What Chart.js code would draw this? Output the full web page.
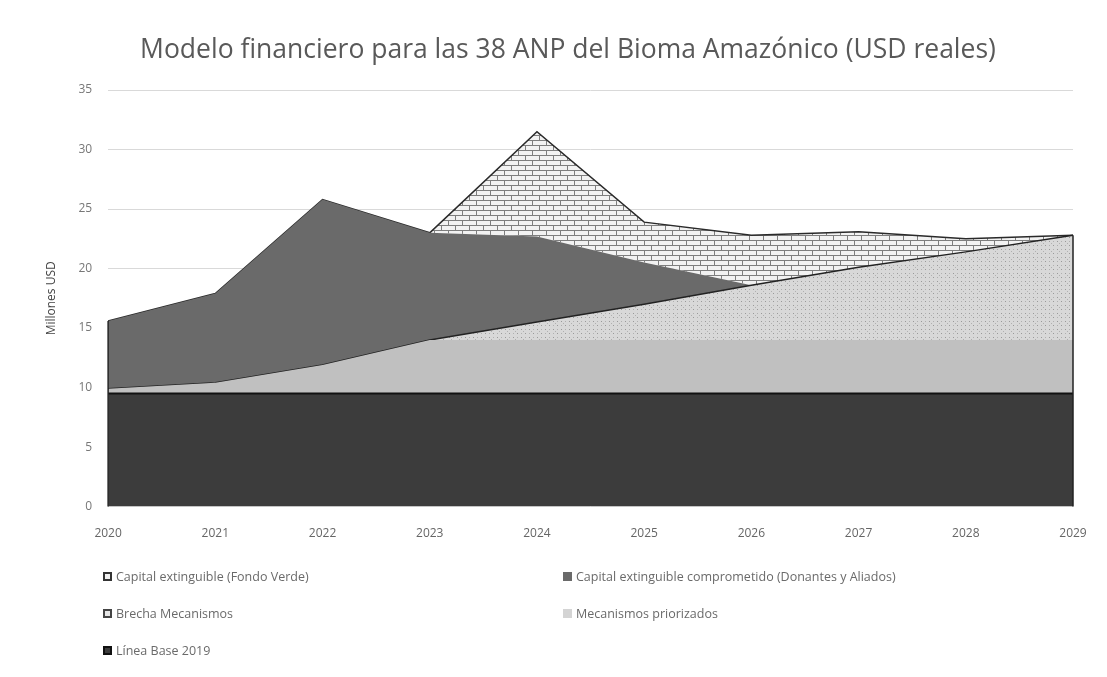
<!DOCTYPE html>
<html>
<head>
<meta charset="utf-8">
<script src="https://cdn.jsdelivr.net/npm/chart.js@4"></script>
<style>
  body { margin: 0; background: #fff; font-family: "Open Sans", sans-serif; }
  #wrap { position: relative; width: 1107px; height: 677px; }
  #title { position: absolute; left: 0; top: 31px; width: 1136px; text-align: center;
           font-size: 26.5px; color: #595959; line-height: 34px; white-space: nowrap; }
  #legend { position: absolute; left: 103px; top: 566px; width: 960px;
            display: grid; grid-template-columns: 460px 460px; row-gap: 17px; }
  .item { display: flex; align-items: center; font-size: 12.5px; color: #6a6a6a; height: 20px; }
  .sw { width: 9px; height: 9px; margin-right: 4px; box-sizing: border-box; }
</style>
</head>
<body>
<div id="wrap">
  <canvas id="chart" width="1107" height="677"></canvas>
  <div id="title">Modelo financiero para las 38 ANP del Bioma Amazónico (USD reales)</div>
  <div id="legend"></div>
</div>
<script>
// datos (millones USD, apilados)
const years = ['2020','2021','2022','2023','2024','2025','2026','2027','2028','2029'];
const lineaBase   = [9.5, 9.5, 9.5, 9.5, 9.5, 9.5, 9.5, 9.5, 9.5, 9.5];
const mecPriorizados = [0.4, 0.9, 2.4, 4.5, 4.5, 4.5, 4.5, 4.5, 4.5, 4.5];
const brechaMec   = [0, 0, 0, 0, 1.5, 3.0, 4.6, 6.1, 7.4, 8.8];
const comprometido = [5.7, 7.5, 13.9, 9.0, 7.2, 3.5, 0, 0, 0, 0];
const fondoVerde  = [0, 0, 0, 0, 8.8, 3.4, 4.2, 3.0, 1.1, 0];
const yTicks = [0, 5, 10, 15, 20, 25, 30, 35];

// patron de ladrillos
function brickPattern() {
  const c = document.createElement('canvas');
  c.width = 14; c.height = 10;
  const g = c.getContext('2d');
  g.fillStyle = '#f2f2f2'; g.fillRect(0, 0, 14, 10);
  g.strokeStyle = '#7e7e7e'; g.lineWidth = 1;
  g.beginPath();
  g.moveTo(0, 0.5); g.lineTo(14, 0.5);
  g.moveTo(0, 5.5); g.lineTo(14, 5.5);
  g.moveTo(0.5, 0); g.lineTo(0.5, 5);
  g.moveTo(7.5, 5); g.lineTo(7.5, 10);
  g.stroke();
  return g.createPattern(c, 'repeat');
}

// patron punteado
function dotPattern() {
  const c = document.createElement('canvas');
  c.width = 8; c.height = 8;
  const g = c.getContext('2d');
  g.fillStyle = '#d8d8d8'; g.fillRect(0, 0, 8, 8);
  g.fillStyle = '#999';
  g.fillRect(1, 1, 1, 1); g.fillRect(5, 5, 1, 1);
  g.fillStyle = '#b0b0b0';
  g.fillRect(5, 1, 1, 1); g.fillRect(1, 5, 1, 1); g.fillRect(3, 3, 1, 1);
  return g.createPattern(c, 'repeat');
}

// bordes verticales del area en los extremos
const edgePlugin = {
  id: 'edges',
  afterDatasetsDraw(chart) {
    const x = chart.scales.x, y = chart.scales.y;
    const n = years.length;
    const c = chart.ctx;
    c.save();
    c.strokeStyle = '#222';
    c.lineWidth = 1.5;
    [0, n - 1].forEach(i => {
      const total = chart.data.datasets.reduce((s, ds) => s + ds.data[i], 0);
      const px = x.getPixelForValue(i);
      c.beginPath();
      c.moveTo(px, y.getPixelForValue(0));
      c.lineTo(px, y.getPixelForValue(total));
      c.stroke();
    });
    c.restore();
  }
};

const ctx = document.getElementById('chart').getContext('2d');
const chart = new Chart(ctx, {
  type: 'line',
  data: {
    labels: years,
    datasets: [
      { label: 'Línea Base 2019', data: lineaBase, fill: 'origin',
        backgroundColor: '#3c3c3c', borderColor: '#111', borderWidth: 2, swatch: '#3c3c3c', swBorder: '#111' },
      { label: 'Mecanismos priorizados', data: mecPriorizados, fill: '-1',
        backgroundColor: '#c0c0c0', borderColor: '#c0c0c0', borderWidth: 0, swatch: '#d4d4d4', swBorder: '#d4d4d4' },
      { label: 'Brecha Mecanismos', data: brechaMec, fill: '-1',
        backgroundColor: dotPattern(), borderColor: '#222', borderWidth: 1.5, swatch: '#e6e6e6', swBorder: '#444' },
      { label: 'Capital extinguible comprometido (Donantes y Aliados)', data: comprometido, fill: '-1',
        backgroundColor: '#6a6a6a', borderColor: 'rgba(0,0,0,0)', borderWidth: 0, swatch: '#6a6a6a', swBorder: '#6a6a6a' },
      { label: 'Capital extinguible (Fondo Verde)', data: fondoVerde, fill: '-1',
        backgroundColor: brickPattern(), borderColor: '#2a2a2a', borderWidth: 1.5, swatch: '#f0f0f0', swBorder: '#333' }
    ]
  },
  plugins: [edgePlugin],
  options: {
    responsive: false,
    animation: false,
    layout: { padding: { left: 40, right: 34, top: 90, bottom: 124 } },
    elements: { point: { radius: 0 }, line: { tension: 0 } },
    plugins: {
      legend: { display: false },
      tooltip: { enabled: false },
      title: { display: false }
    },
    scales: {
      x: {
        grid: { display: false },
        border: { display: false },
        ticks: { color: '#666', font: { family: 'Open Sans', size: 12 }, padding: 12, maxRotation: 0 }
      },
      y: {
        stacked: true,
        min: 0, max: 35,
        afterBuildTicks: axis => { axis.ticks = yTicks.map(v => ({ value: v })); },
        grid: { color: '#d9d9d9', drawTicks: false },
        border: { display: false },
        ticks: { color: '#777', font: { family: 'Open Sans', size: 12 }, padding: 16 },
        title: { display: true, text: 'Millones USD', color: '#444', font: { family: 'Open Sans', size: 12 } }
      }
    }
  }
});

// leyenda en dos columnas
const order = [4, 3, 2, 1, 0];
const legend = document.getElementById('legend');
order.forEach(i => {
  const ds = chart.data.datasets[i];
  const item = document.createElement('div');
  item.className = 'item';
  const sw = document.createElement('span');
  sw.className = 'sw';
  sw.style.background = ds.swatch;
  sw.style.border = '2px solid ' + ds.swBorder;
  item.appendChild(sw);
  item.appendChild(document.createTextNode(ds.label));
  legend.appendChild(item);
});
</script>
</body>
</html>
